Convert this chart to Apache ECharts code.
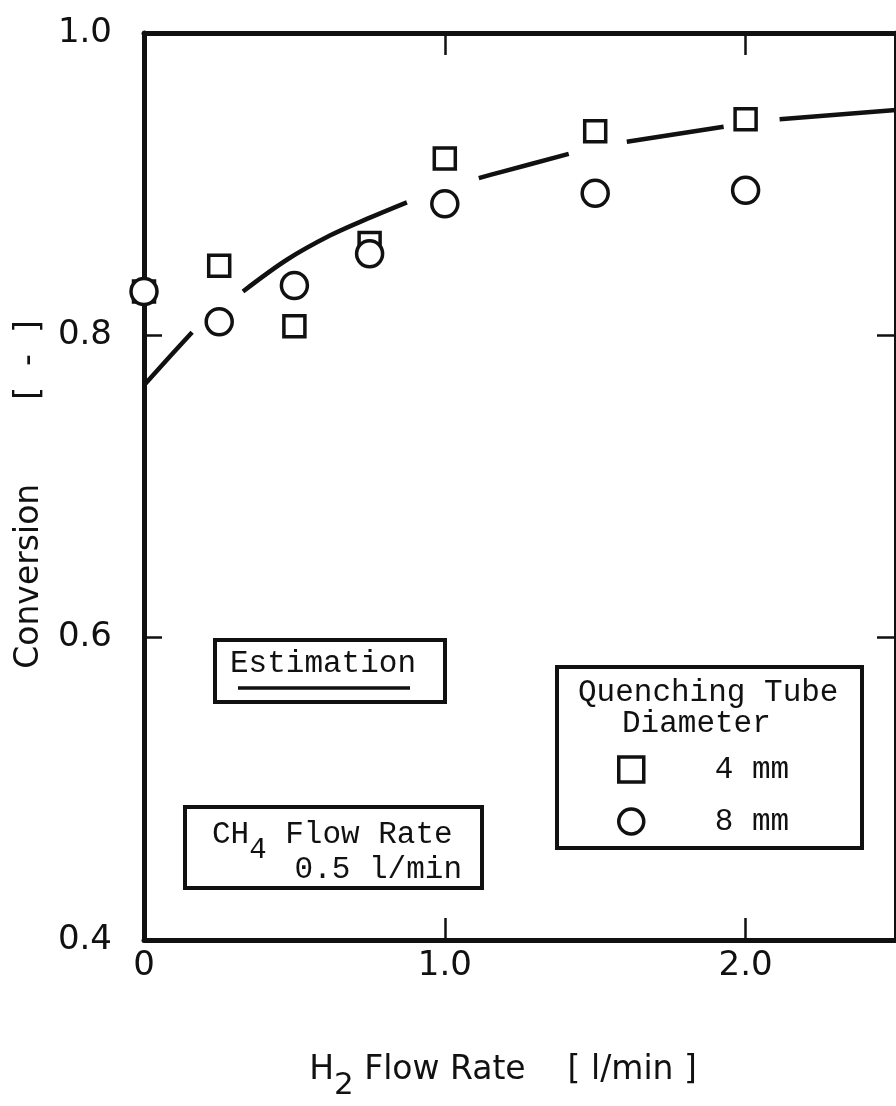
<!DOCTYPE html>
<html><head><meta charset="utf-8">
<script src="https://cdn.jsdelivr.net/npm/echarts@6/dist/echarts.min.js"></script>
<style>html,body{margin:0;padding:0;background:#fff}#c{width:896px;height:1106px}</style>
</head><body><div id="c"></div>
<script>
// ---- data ----
const xTicks = [0, 1.0, 2.0];
const yTicks = [0.4, 0.6, 0.8, 1.0];
const h2Flow = [0, 0.25, 0.5, 0.75, 1.0, 1.5, 2.0];
const conv4mm = [0.829, 0.846, 0.806, 0.861, 0.917, 0.935, 0.943];
const conv8mm = [0.829, 0.809, 0.833, 0.854, 0.887, 0.894, 0.896];
// estimation curve (null = break in the drawn line)
const estX = [0, 0.086, 0.16, null, 0.329, 0.475, 0.618, 0.741, 0.874, null, 1.113, 1.186, 1.412, null, 1.605, 1.927, null, 2.113, 2.5];
const estY = [0.767, 0.786, 0.802, null, 0.829, 0.850, 0.866, 0.877, 0.888, null, 0.904, 0.908, 0.920, null, 0.928, 0.938, null, 0.943, 0.949];

const SANS = "'DejaVu Sans', 'Liberation Sans', sans-serif";
const MONO = "'Liberation Mono', 'DejaVu Sans Mono', monospace";
const INK = '#111';

const estData = estX.map((x, i) => x === null ? null : [x, estY[i]]);
const sq = h2Flow.map((x, i) => [x, conv4mm[i]]);
const ci = h2Flow.map((x, i) => [x, conv8mm[i]]);

const chart = echarts.init(document.getElementById('c'), null, {renderer: 'canvas'});
const axisLine = {show: true, onZero: false, lineStyle: {color: INK, width: 5}};
const tickStyle = {color: INK, width: 2.5};

chart.setOption({
  backgroundColor: '#fff',
  animation: false,
  grid: {left: 144, right: -1, top: 33, bottom: 163, containLabel: false},
  xAxis: [{
    type: 'value', min: 0, max: 2.5, interval: 1, position: 'bottom',
    axisLine: axisLine, splitLine: {show: false},
    axisTick: {show: true, inside: true, length: 22, lineStyle: tickStyle, customValues: xTicks},
    axisLabel: {show: true, customValues: xTicks, margin: 9, color: INK, fontFamily: SANS, fontSize: 34,
      formatter: v => v === 0 ? '0' : v.toFixed(1)},
    name: '{t|H}{s|2}{t| Flow Rate    [ l/min ]}',
    nameLocation: 'middle', nameGap: 100,
    nameTextStyle: {padding: [0, 34, 0, 0], rich: {
      t: {fontFamily: SANS, fontSize: 33, color: INK},
      s: {fontFamily: SANS, fontSize: 31, color: INK, padding: [30, 0, 0, 0]}
    }}
  }, {
    type: 'value', min: 0, max: 2.5, interval: 1, position: 'top',
    axisLine: axisLine, splitLine: {show: false},
    axisTick: {show: true, inside: true, length: 22, lineStyle: tickStyle, customValues: xTicks},
    axisLabel: {show: false}
  }],
  yAxis: [{
    type: 'value', min: 0.4, max: 1.0, interval: 0.2, position: 'left',
    axisLine: axisLine, splitLine: {show: false},
    axisTick: {show: true, inside: true, length: 18, lineStyle: tickStyle, customValues: yTicks},
    axisLabel: {show: true, customValues: yTicks, margin: 32, color: INK, fontFamily: SANS, fontSize: 34,
      padding: [0, 0, 14, 0], formatter: v => v.toFixed(1)},
    name: 'Conversion        [  -  ]', nameLocation: 'middle', nameGap: 98,
    nameTextStyle: {fontFamily: SANS, fontSize: 33, color: INK, padding: [0, 16, 0, 0]}
  }, {
    type: 'value', min: 0.4, max: 1.0, interval: 0.2, position: 'right',
    axisLine: axisLine, splitLine: {show: false},
    axisTick: {show: true, inside: true, length: 19, lineStyle: tickStyle, customValues: yTicks},
    axisLabel: {show: false}
  }],
  legend: {
    data: ['4 mm', '8 mm'], orient: 'vertical', left: 617, top: 754,
    itemWidth: 25, itemHeight: 25, itemGap: 21, padding: 0,
    selectedMode: false,
    itemStyle: {color: '#fff', borderColor: INK, borderWidth: 3.5},
    textStyle: {fontFamily: MONO, fontSize: 31, color: INK, padding: [0, 0, 0, 66]}
  },
  series: [{
    name: 'Estimation', type: 'line', data: estData, smooth: 0.35, connectNulls: false,
    showSymbol: false, symbol: 'none', z: 2,
    lineStyle: {color: INK, width: 4.5}
  }, {
    name: '4 mm', type: 'scatter', data: sq, symbol: 'rect', symbolSize: 21, z: 3,
    itemStyle: {color: '#fff', borderColor: INK, borderWidth: 3.5, opacity: 1}
  }, {
    name: '8 mm', type: 'scatter', data: ci, symbol: 'circle', symbolSize: 26, z: 4,
    itemStyle: {color: '#fff', borderColor: INK, borderWidth: 3.5, opacity: 1}
  }],
  graphic: [
    // Estimation key box
    {type: 'rect', shape: {x: 215, y: 640, width: 230, height: 62}, style: {fill: '#fff', stroke: INK, lineWidth: 4}, z: 10},
    {type: 'text', style: {x: 230, y: 664, text: 'Estimation', font: '31px ' + MONO, fill: INK, verticalAlign: 'middle'}, z: 11},
    {type: 'line', shape: {x1: 238, y1: 688, x2: 410, y2: 688}, style: {stroke: INK, lineWidth: 3.5}, z: 11},
    // CH4 box
    {type: 'rect', shape: {x: 185, y: 807, width: 297, height: 81}, style: {fill: '#fff', stroke: INK, lineWidth: 4}, z: 10},
    {type: 'text', style: {x: 212, y: 835, text: '{t|CH}{s|4}{t| Flow Rate}', verticalAlign: 'middle',
      rich: {t: {fontFamily: MONO, fontSize: 31, fill: INK}, s: {fontFamily: MONO, fontSize: 29, fill: INK, padding: [30, 0, 0, 0]}}}, z: 11},
    {type: 'text', style: {x: 462, y: 870, text: '0.5 l/min', font: '31px ' + MONO, fill: INK, align: 'right', verticalAlign: 'middle'}, z: 11},
    // Quenching tube legend box
    {type: 'rect', shape: {x: 557, y: 667, width: 305, height: 181}, style: {fill: '#fff', stroke: INK, lineWidth: 4}, z: 0},
    {type: 'text', style: {x: 578, y: 693, text: 'Quenching Tube', font: '31px ' + MONO, fill: INK, verticalAlign: 'middle'}, z: 11},
    {type: 'text', style: {x: 622, y: 724, text: 'Diameter', font: '31px ' + MONO, fill: INK, verticalAlign: 'middle'}, z: 11}
  ]
});
</script></body></html>
